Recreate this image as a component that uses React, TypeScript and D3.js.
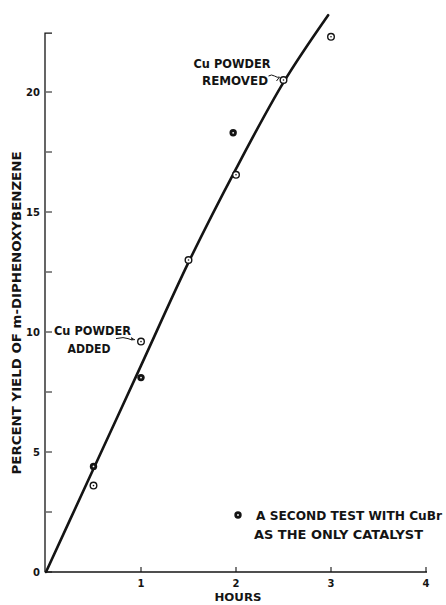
import React from "react";
import * as d3 from "d3";

const width = 446;
const height = 605;

// readings from the figure
const hours = [0.5, 1, 1.5, 2, 2.5, 3];
const yieldMain = [3.6, 9.6, 13.0, 16.55, 20.5, 22.3];
const hoursSecond = [0.5, 1, 1.97];
const yieldSecond = [4.4, 8.1, 18.3];
const fitHours = [0, 0.5, 1, 1.5, 2, 2.5, 2.97];
const fitYield = [0, 4.3, 8.6, 12.9, 16.8, 20.4, 23.2];
const xTicks = [1, 2, 3, 4];
const yMajor = [0, 5, 10, 15, 20];
const yMinor = [2.5, 7.5, 12.5, 17.5];

const ink = "#141414";
const font = "'DejaVu Sans', sans-serif";

const x = d3.scaleLinear().domain([0, 4]).range([46, 426]);
const y = d3.scaleLinear().domain([0, 20]).range([572, 92]);

function OpenMark({ cx, cy }: { cx: number; cy: number }) {
  return (
    <g>
      <circle cx={cx} cy={cy} r={3.3} fill="white" stroke={ink} strokeWidth={1.4} />
      <circle cx={cx} cy={cy} r={0.8} fill={ink} />
    </g>
  );
}

function FilledMark({ cx, cy }: { cx: number; cy: number }) {
  return (
    <g>
      <circle cx={cx} cy={cy} r={3.7} fill={ink} />
      <circle cx={cx} cy={cy} r={0.9} fill="white" />
    </g>
  );
}

export default function App() {
  const line = d3
    .line<number>()
    .x((d, i) => x(fitHours[i]))
    .y((d) => y(d))
    .curve(d3.curveMonotoneX);

  const topY = y(22.45);
  const removed = { px: x(2.5), py: y(20.5) };
  const added = { px: x(1), py: y(9.6) };

  return (
    <svg
      width={width}
      height={height}
      style={{ position: "absolute", left: 0, top: 0, background: "white" }}
      fontFamily={font}
      fontWeight="bold"
      fill={ink}
    >
      {/* axes */}
      <path
        d={`M${x(0) - 1},${y(0)}V${topY}H${x(0) + 6}`}
        fill="none"
        stroke={ink}
        strokeWidth={1.3}
      />
      <line x1={x(0) - 1} x2={x(4) + 1} y1={y(0)} y2={y(0)} stroke={ink} strokeWidth={1.6} />

      {yMajor.concat(yMinor).map((v) => (
        <line key={"yt" + v} x1={x(0)} x2={x(0) + 6} y1={y(v)} y2={y(v)} stroke={ink} strokeWidth={1} />
      ))}
      {yMajor.map((v) => (
        <text key={"yl" + v} x={40} y={y(v)} dy="0.35em" textAnchor="end" fontSize={10}>
          {v}
        </text>
      ))}
      {xTicks.map((v) => (
        <g key={"xt" + v}>
          <line x1={x(v)} x2={x(v)} y1={y(0)} y2={y(0) - 5} stroke={ink} strokeWidth={1.1} />
          <text x={x(v)} y={y(0) + 11} dy="0.35em" textAnchor="middle" fontSize={10}>
            {v}
          </text>
        </g>
      ))}

      <text x={238} y={597} dy="0.35em" textAnchor="middle" fontSize={11} textLength={47} lengthAdjust="spacingAndGlyphs">
        HOURS
      </text>
      <text
        transform={`translate(17,313) rotate(-90)`}
        dy="0.35em"
        textAnchor="middle"
        fontSize={12}
        textLength={323}
        lengthAdjust="spacingAndGlyphs"
      >
        PERCENT YIELD OF m-DIPHENOXYBENZENE
      </text>

      {/* fitted curve */}
      <path d={line(fitYield) || ""} fill="none" stroke={ink} strokeWidth={2.6} strokeLinecap="round" />

      {/* data */}
      {yieldMain.map((v, i) => (
        <OpenMark key={"o" + i} cx={x(hours[i])} cy={y(v)} />
      ))}
      {yieldSecond.map((v, i) => (
        <FilledMark key={"f" + i} cx={x(hoursSecond[i])} cy={y(v)} />
      ))}

      {/* annotations */}
      <text x={removed.px - 90} y={removed.py - 16} dy="0.35em" fontSize={12} textLength={77} lengthAdjust="spacingAndGlyphs">
        Cu POWDER
      </text>
      <text x={removed.px - 81.5} y={removed.py + 0.5} dy="0.35em" fontSize={12} textLength={66} lengthAdjust="spacingAndGlyphs">
        REMOVED
      </text>
      <path
        d={`M${removed.px - 15},${removed.py - 4} q3,-2 6,0 t5,1 l-3,4`}
        fill="none"
        stroke={ink}
        strokeWidth={1}
      />

      <text x={added.px - 87} y={added.py - 11} dy="0.35em" fontSize={12} textLength={77} lengthAdjust="spacingAndGlyphs">
        Cu POWDER
      </text>
      <text x={added.px - 73.5} y={added.py + 7.3} dy="0.35em" fontSize={12} textLength={43} lengthAdjust="spacingAndGlyphs">
        ADDED
      </text>
      <path
        d={`M${added.px - 25},${added.py - 3} q8,-2 12,0 t7,1`}
        fill="none"
        stroke={ink}
        strokeWidth={1}
      />
      <path
        d={`M${added.px - 7},${added.py - 2.5} l-3,-2.2 l0.5,3.4 z`}
        fill={ink}
      />

      {/* legend */}
      <FilledMark cx={238} cy={515} />
      <text x={256} y={516} dy="0.35em" fontSize={12} textLength={186} lengthAdjust="spacingAndGlyphs">
        A SECOND TEST WITH CuBr
      </text>
      <text x={254} y={534.5} dy="0.35em" fontSize={12} textLength={169} lengthAdjust="spacingAndGlyphs">
        AS THE ONLY CATALYST
      </text>
    </svg>
  );
}
